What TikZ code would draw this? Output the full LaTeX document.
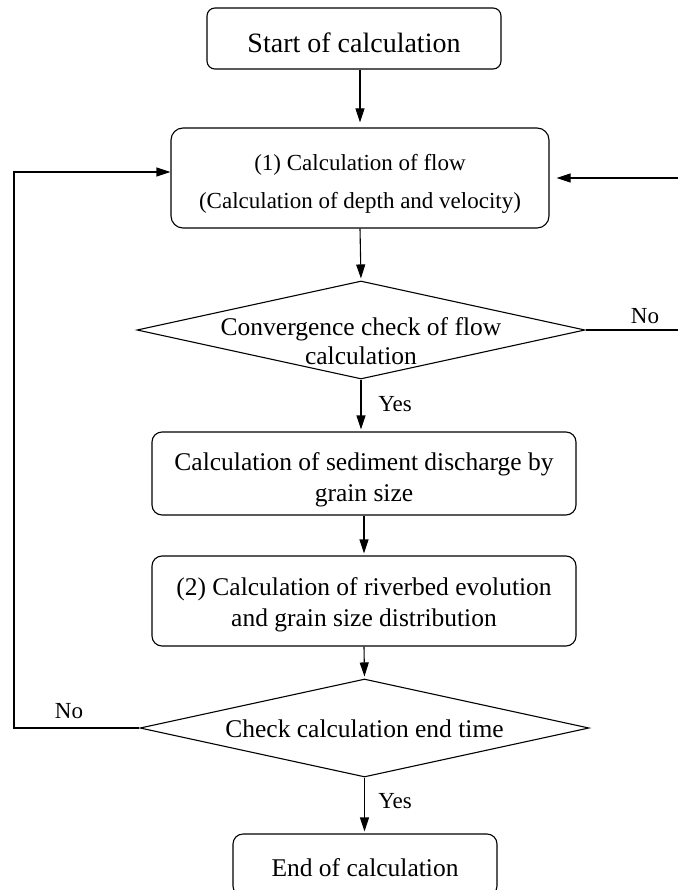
\documentclass[tikz,border=0pt]{standalone}
\usepackage{fontspec}
\setmainfont{Liberation Serif}
\usetikzlibrary{arrows.meta,shapes.geometric,positioning}
\tikzset{
    %Define standard arrow tip
    >={Triangle[length=14pt,width=9pt]},
    % Define box styles
    stepbox/.style={
           draw,
           line width=1.1pt,
           rounded corners=10pt,
           inner sep=0pt,
           },
    checkbox/.style={
           draw,
           diamond,
           line width=1.1pt,
           inner sep=0pt,
           },
    steptext/.style={
           align=center,
           font=\fontsize{25.5}{31}\selectfont,
           },
    % Define arrow style
    flowline/.style={
           ->,
           line width=1.1pt,
           shorten >=2pt,
           },
    answer/.style={
           font=\fontsize{23}{23}\selectfont,
}
}

\begin{document}
\begin{tikzpicture}[x=1pt,y=-1pt]
  	\useasboundingbox (0,0) rectangle (677,890);
  	\coordinate (lside) at (14,0);
  	\coordinate (rside) at (681,0);
  	\node (start) at (354,38.5) [stepbox, minimum width=294pt, minimum height=61pt, rounded corners=8pt] {};
  	\node (flow) at (360,178) [stepbox, minimum width=378pt, minimum height=100pt, rounded corners=12pt] {};
  	\node (conv) at (361,330) [checkbox, minimum width=448pt, minimum height=98pt] {};
  	\node (sed) at (364,473.5) [stepbox, minimum width=424pt, minimum height=83pt] {};
  	\node (bed) at (364,601) [stepbox, minimum width=424pt, minimum height=90pt] {};
  	\node (endchk) at (364.5,728) [checkbox, minimum width=449pt, minimum height=98pt] {};
  	\node (fin) at (365,865) [stepbox, minimum width=264pt, minimum height=62pt] {};
%  	texts
  	\node (starttext) at (354,42.5) [steptext, font=\fontsize{28}{30}\selectfont] {Start of calculation};
  	\node (flowtext) at (360,184) [steptext, font=\fontsize{23}{38}\selectfont] {(1) Calculation of flow\\(Calculation of depth and velocity)};
  	\node (convtext) at (361,341) [steptext, font=\fontsize{25.5}{29}\selectfont] {Convergence check of flow\\calculation};
  	\node (sedtext) at (364,480) [steptext] {Calculation of sediment discharge by\\grain size};
  	\node (bedtext) at (364,605) [steptext] {(2) Calculation of riverbed evolution\\and grain size distribution};
  	\node (endtext) at (364.5,729) [steptext] {Check calculation end time};
  	\node (fintext) at (365,868) [steptext] {End of calculation};
  	\node (yes1) at (395,404) [answer] {Yes};
  	\node (yes2) at (395,801) [answer] {Yes};
  	\node (no1) at (645,316) [answer] {No};
  	\node (no2) at (69,711) [answer] {No};
%  	main line
  	\draw [flowline, shorten >=5pt] (start.south -| flow.north) -- (flow.north);
  	\draw [flowline] (flow.south) -- (conv.north);
  	\draw [flowline] (conv.south) -- (conv.south |- sed.north);
  	\draw [flowline] (sed.south) -- (bed.north);
  	\draw [flowline] (bed.south) -- (endchk.north);
  	\draw [flowline] (endchk.south) -- (endchk.south |- fin.north);
%  	loops back
  	\draw [flowline, shorten >=0pt] (endchk.west) -- (endchk.west -| lside) |- ([yshift=6pt]flow.west);
  	\draw [flowline, shorten >=7pt] (conv.east) -- (conv.east -| rside) |- (flow.east);
\end{tikzpicture}
\end{document}
